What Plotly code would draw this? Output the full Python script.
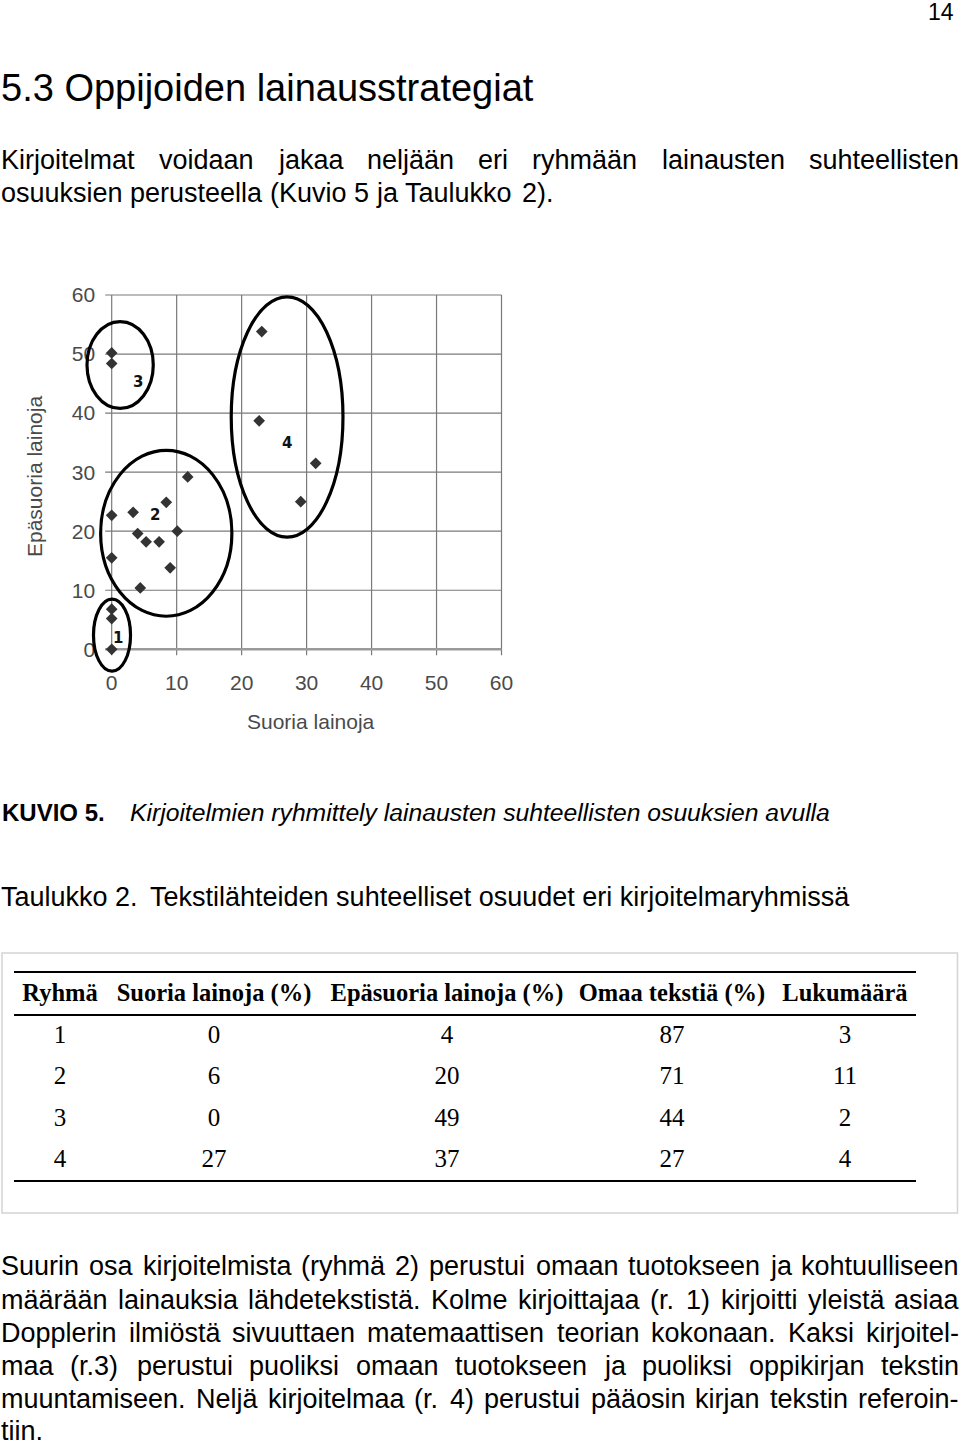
import plotly.graph_objects as go

# ---------------- data ----------------
g1_x = [0, 0, 0]
g1_y = [6.8, 5.2, 0]
g2_x = [0, 0, 3.3, 4.0, 5.3, 7.3, 8.4, 10.1, 9.0, 4.4, 11.7]
g2_y = [22.7, 15.5, 23.2, 19.6, 18.2, 18.2, 24.9, 20.0, 13.8, 10.4, 29.2]
g3_x = [0, 0]
g3_y = [50.2, 48.4]
g4_x = [23.1, 22.7, 31.4, 29.1]
g4_y = [53.8, 38.7, 31.5, 25.0]

group_labels = ["1", "2", "3", "4"]
axis_ticks = [0, 10, 20, 30, 40, 50, 60]

table_header = ["Ryhmä", "Suoria lainoja (%)", "Epäsuoria lainoja (%)", "Omaa tekstiä (%)", "Lukumäärä"]
tab_ryhma = ["1", "2", "3", "4"]
tab_suoria = ["0", "6", "0", "27"]
tab_epasuoria = ["4", "20", "49", "37"]
tab_omaa = ["87", "71", "44", "27"]
tab_lukumaara = ["3", "11", "2", "4"]

# ---------------- layout helpers ----------------
W, H = 960, 1447
def px(x):
    return x / W
def py(y):
    return 1 - y / H

# Arial / Liberation Sans advance widths (per 1000 em)
AW = {' ': 278, '(': 333, ')': 333, '.': 278, ',': 278, '-': 333, ':': 278,
      'a': 556, 'b': 556, 'c': 500, 'd': 556, 'e': 556, 'f': 278, 'g': 556, 'h': 556,
      'i': 222, 'j': 222, 'k': 500, 'l': 222, 'm': 833, 'n': 556, 'o': 556, 'p': 556,
      'q': 556, 'r': 333, 's': 500, 't': 278, 'u': 556, 'v': 500, 'w': 722, 'x': 500,
      'y': 500, 'z': 500, 'ä': 556, 'ö': 556, 'å': 556,
      'A': 667, 'B': 667, 'C': 722, 'D': 722, 'E': 667, 'F': 611, 'G': 778, 'H': 722,
      'I': 278, 'J': 500, 'K': 667, 'L': 556, 'M': 833, 'N': 722, 'O': 778, 'P': 667,
      'R': 722, 'S': 667, 'T': 611, 'U': 722, 'V': 667}
for d in "0123456789":
    AW[d] = 556

def tw(s, size):
    return sum(AW.get(c, 556) for c in s) * size / 1000.0

BODY = "Liberation Sans"
annotations = []
shapes = []

def text_px(x, y, s, size, xanchor="left", family=BODY, color="#000", bold=False, italic=False):
    t = s
    if bold:
        t = "<b>" + t + "</b>"
    if italic:
        t = "<i>" + t + "</i>"
    annotations.append(dict(x=px(x), y=py(y), xref="paper", yref="paper", text=t,
                            showarrow=False, xanchor=xanchor, yanchor="middle",
                            font=dict(family=family, size=size, color=color),
                            borderpad=0))

def line_px(line, y, size, left=0, right=958, justify=True):
    words = line.split(" ")
    widths = [tw(w, size) for w in words]
    if justify and len(words) > 1:
        gap = (right - left - sum(widths)) / (len(words) - 1)
    else:
        gap = tw(" ", size)
    x = left
    for w, wd in zip(words, widths):
        text_px(x, y, w, size)
        x += wd + gap

# ---------------- page text ----------------
text_px(955, 12, "14", 23, xanchor="right")
text_px(0, 88, "5.3 Oppijoiden lainausstrategiat", 38)

para1 = ["Kirjoitelmat voidaan jakaa neljään eri ryhmään lainausten suhteellisten",
         "osuuksien perusteella (Kuvio 5 ja Taulukko 2)."]
line_px(para1[0], 160, 27)
line_px(para1[1], 193, 27, justify=False)

text_px(1, 812, "KUVIO 5.", 24, bold=True)
text_px(129, 812, "Kirjoitelmien ryhmittely lainausten suhteellisten osuuksien avulla", 24.7, italic=True)

text_px(0, 897, "Taulukko 2.", 27)
text_px(149, 897, "Tekstilähteiden suhteelliset osuudet eri kirjoitelmaryhmissä", 27)

para2 = ["Suurin osa kirjoitelmista (ryhmä 2) perustui omaan tuotokseen ja kohtuulliseen",
         "määrään lainauksia lähdetekstistä. Kolme kirjoittajaa (r. 1) kirjoitti yleistä asiaa",
         "Dopplerin ilmiöstä sivuuttaen matemaattisen teorian kokonaan. Kaksi kirjoitel-",
         "maa (r.3) perustui puoliksi omaan tuotokseen ja puoliksi oppikirjan tekstin",
         "muuntamiseen. Neljä kirjoitelmaa (r. 4) perustui pääosin kirjan tekstin referoin-",
         "tiin."]
para2_y = [1266, 1300, 1333, 1366, 1399, 1431]
for i, (ln, yy) in enumerate(zip(para2, para2_y)):
    line_px(ln, yy, 27, justify=(i < len(para2) - 1))

# ---------------- scatter chart ----------------
fig = go.Figure()
mk = dict(symbol="diamond", size=9, color="#333333")
for gx, gy in [(g1_x, g1_y), (g2_x, g2_y), (g3_x, g3_y), (g4_x, g4_y)]:
    fig.add_trace(go.Scatter(x=gx, y=gy, mode="markers", marker=mk, cliponaxis=False,
                             hoverinfo="skip", xaxis="x", yaxis="y"))

# grid (drawn only inside the 0..60 box, as in the original)
for t in axis_ticks:
    shapes.append(dict(type="line", xref="x", yref="y", x0=t, x1=t, y0=-1, y1=60,
                       line=dict(color="#7a7a7a", width=1.2), layer="below"))
    shapes.append(dict(type="line", xref="x", yref="y", x0=-1, x1=60, y0=t, y1=t,
                       line=dict(color="#7a7a7a", width=1.2), layer="below"))
shapes.append(dict(type="line", xref="x", yref="y", x0=-1, x1=60, y0=0, y1=0,
                   line=dict(color="#9a9a9a", width=2.5), layer="below"))

# group ellipses
ellipses = [(-2.8, 2.9, -3.7, 8.5), (-1.7, 18.5, 5.6, 33.7),
            (-3.8, 6.4, 40.8, 55.5), (18.4, 35.6, 19.0, 59.7)]
for (a0, a1, b0, b1) in ellipses:
    shapes.append(dict(type="circle", xref="x", yref="y", x0=a0, x1=a1, y0=b0, y1=b1,
                       line=dict(color="#000", width=3.2)))

label_pos = [(0.9, 2.0), (6.7, 22.7), (4.1, 45.3), (27.0, 34.9)]
for lab, (lx, ly) in zip(group_labels, label_pos):
    annotations.append(dict(x=lx, y=ly, xref="x", yref="y", text="<b>" + lab + "</b>",
                            showarrow=False, font=dict(family="DejaVu Sans", size=15, color="#111")))

CH = dict(family="Liberation Sans", size=21, color="#4a4a4a")
text_px(310.5, 722, "Suoria lainoja", 21, xanchor="center", color="#4a4a4a")
annotations.append(dict(x=px(34), y=py(477), xref="paper", yref="paper", text="Epäsuoria lainoja",
                        textangle=-90, showarrow=False, font=CH, xanchor="center", yanchor="middle"))

# ---------------- table ----------------
col_centers = [60, 214, 447, 672, 845]
columns = [tab_ryhma, tab_suoria, tab_epasuoria, tab_omaa, tab_lukumaara]
fig.add_trace(go.Scatter(x=col_centers, y=[0] * len(table_header), text=table_header,
                         mode="text", textposition="middle center", hoverinfo="skip",
                         textfont=dict(family="Liberation Serif", size=24.5, color="#000", weight="bold"),
                         xaxis="x2", yaxis="y2", cliponaxis=False))
for cx, col in zip(col_centers, columns):
    fig.add_trace(go.Scatter(x=[cx] * len(col), y=list(range(1, len(col) + 1)), text=col,
                             mode="text", textposition="middle center", hoverinfo="skip",
                             textfont=dict(family="Liberation Serif", size=25, color="#000"),
                             xaxis="x2", yaxis="y2", cliponaxis=False))

# table frame and rules
shapes.append(dict(type="rect", xref="paper", yref="paper", x0=px(2), x1=px(957.5), y0=py(1213), y1=py(953),
                   line=dict(color="#d4d4d4", width=1.5)))
for ry in [972, 1015, 1181]:
    shapes.append(dict(type="line", xref="paper", yref="paper", x0=px(14), x1=px(916), y0=py(ry), y1=py(ry),
                       line=dict(color="#000", width=2)))

fig.update_layout(
    width=W, height=H, margin=dict(l=0, r=0, t=0, b=0),
    paper_bgcolor="white", plot_bgcolor="rgba(0,0,0,0)", showlegend=False,
    xaxis=dict(domain=[79.2 / W, 514.5 / W], range=[-5, 62], tickvals=axis_ticks,
               showgrid=False, zeroline=False, showline=False, ticks="",
               tickfont=CH, ticklabelstandoff=-8, fixedrange=True),
    yaxis=dict(domain=[1 - 675.9 / H, 1 - 283.2 / H], range=[-4.5, 62], tickvals=axis_ticks,
               showgrid=False, zeroline=False, showline=False, ticks="",
               tickfont=CH, ticklabelstandoff=-17, fixedrange=True),
    xaxis2=dict(domain=[0, 1], range=[0, 960], visible=False, anchor="y2"),
    yaxis2=dict(domain=[1 - 1181.75 / H, 1 - 974.25 / H], range=[4.5, -0.5], visible=False, anchor="x2"),
    shapes=shapes, annotations=annotations,
)

fig.write_html("out.html")
